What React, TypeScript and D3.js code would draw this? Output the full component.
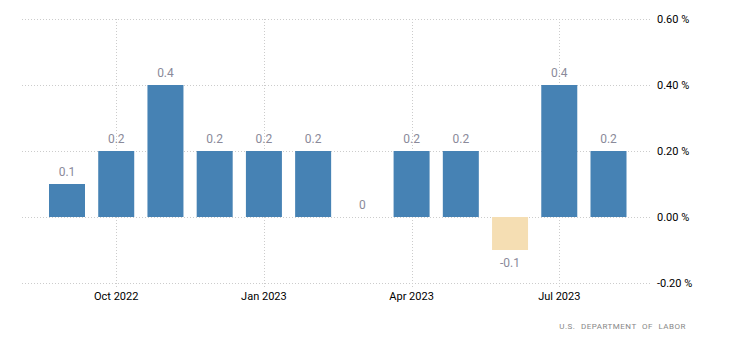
import React from "react";
import * as d3 from "d3";

const months = ["2022-09", "2022-10", "2022-11", "2022-12", "2023-01", "2023-02", "2023-03", "2023-04", "2023-05", "2023-06", "2023-07", "2023-08"];
const values = [0.1, 0.2, 0.4, 0.2, 0.2, 0.2, 0, 0.2, 0.2, -0.1, 0.4, 0.2];
const valueLabels = ["0.1", "0.2", "0.4", "0.2", "0.2", "0.2", "0", "0.2", "0.2", "-0.1", "0.4", "0.2"];
const xTickMonths = ["2022-10", "2023-01", "2023-04", "2023-07"];
const xTickLabels = ["Oct 2022", "Jan 2023", "Apr 2023", "Jul 2023"];
const yTicks = [0.6, 0.4, 0.2, 0, -0.2];
const yTickLabels = ["0.60 %", "0.40 %", "0.20 %", "0.00 %", "-0.20 %"];
const source = "U.S. DEPARTMENT OF LABOR";

export default function App() {
  const W = 730, H = 349;
  const x = d3.scalePoint<string>().domain(months).range([67, 608.5]);
  const bw = 36;
  const y = d3.scaleLinear().domain([-0.2, 0.6]).range([283, 19]);
  const gridL = 22, gridR = 652;
  const font = "Roboto, 'Open Sans', sans-serif";
  return (
    <svg width={W} height={H} style={{ position: "absolute", left: 0, top: 0, background: "#fff" }} fontFamily={font}>
      {yTicks.map((t, i) => (
        <g key={"y" + i}>
          <line x1={gridL} x2={gridR} y1={y(t) + 0.5} y2={y(t) + 0.5} stroke="#ccc" strokeDasharray="1,2" />
          <text x={657} y={y(t)} dy="0.35em" fontSize={11} fill="#000">{yTickLabels[i]}</text>
        </g>
      ))}
      {xTickMonths.map((m, i) => (
        <g key={"x" + i}>
          <line x1={Math.round(x(m)!) + 0.5} x2={Math.round(x(m)!) + 0.5} y1={19} y2={287} stroke="#ccc" strokeDasharray="1,2" />
          <text x={x(m)!} y={300} textAnchor="middle" fontSize={11} fill="#000">{xTickLabels[i]}</text>
        </g>
      ))}
      {values.map((v, i) => {
        const cx = x(months[i])!;
        const y0 = y(0), y1 = y(v);
        const top = Math.min(y0, y1), h = Math.abs(y1 - y0);
        return (
          <g key={"b" + i}>
            {h > 0 && <rect x={cx - bw / 2} y={top} width={bw} height={h} fill={v < 0 ? "#F5DEB3" : "#4682B4"} />}
            <text x={cx} y={v < 0 ? y1 + 17 : y1 - 8} textAnchor="middle" fontSize={12} fill="#8a8a9a">{valueLabels[i]}</text>
          </g>
        );
      })}
      <text x={686} y={329} textAnchor="end" fontSize={8} fill="#888" letterSpacing="0.5" wordSpacing="3">{source}</text>
    </svg>
  );
}
